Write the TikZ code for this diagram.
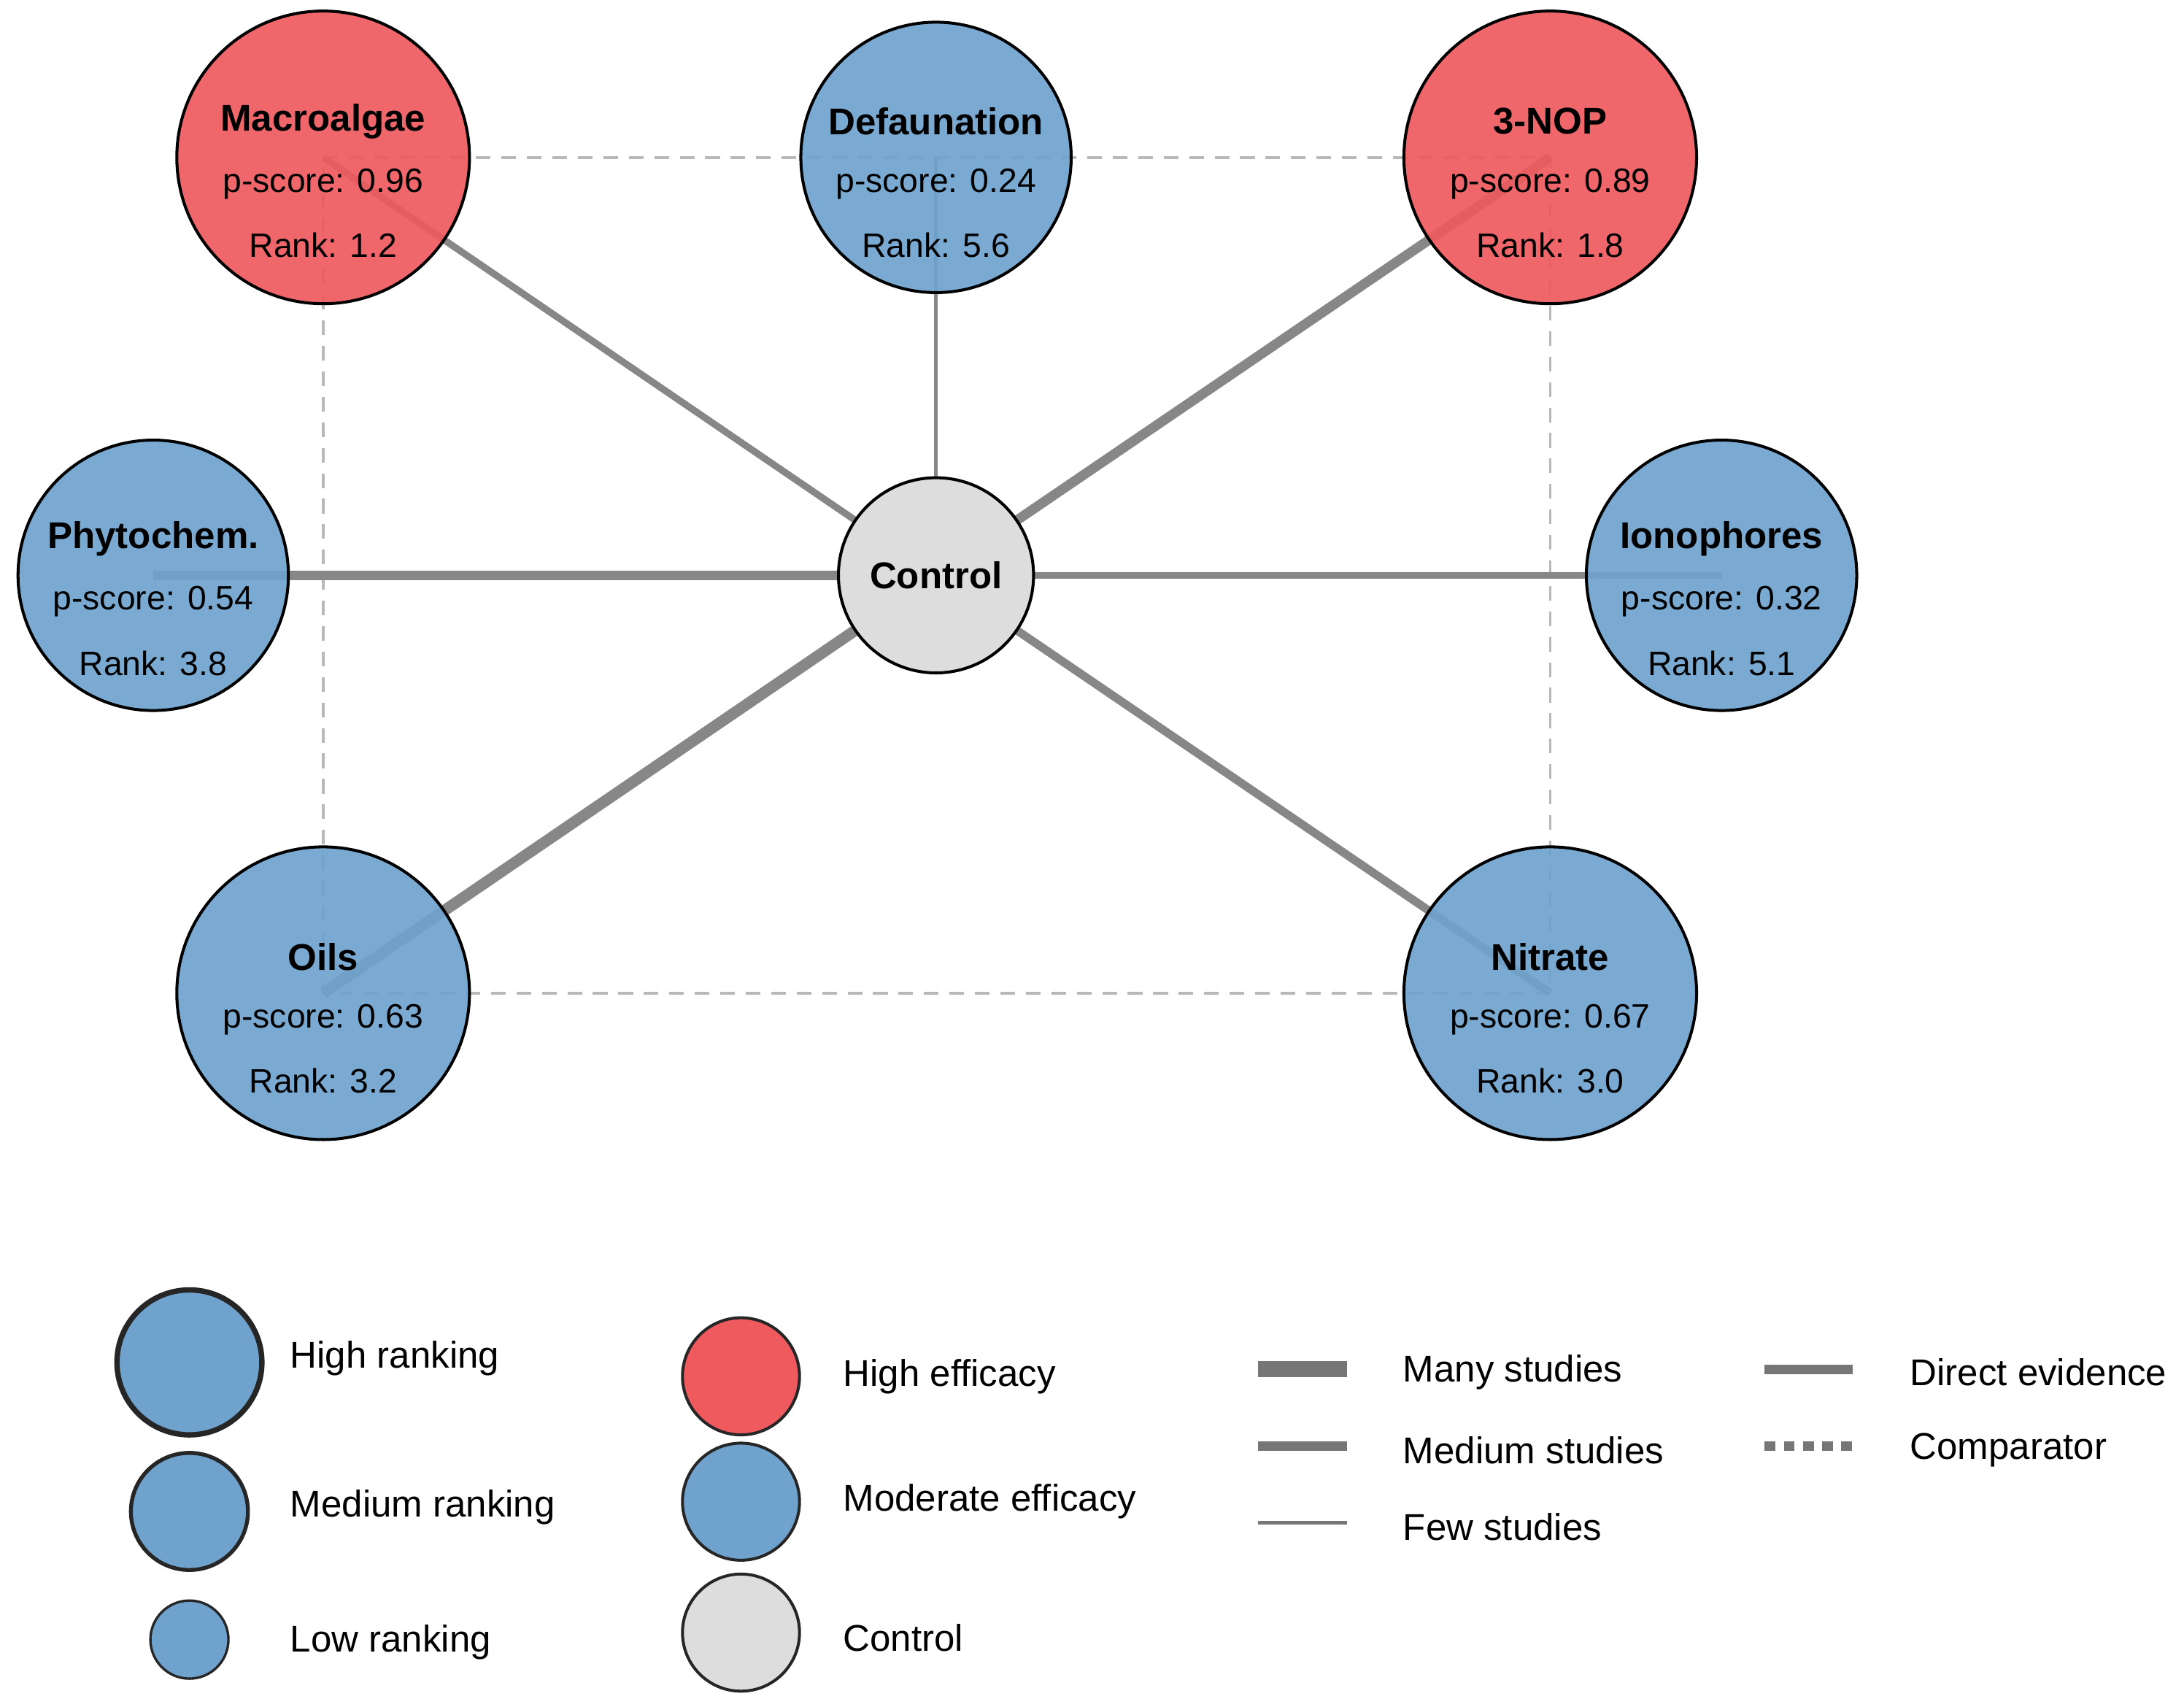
\documentclass[tikz,border=0pt]{standalone}
\usepackage{fontspec}
\setmainfont{Liberation Sans}
\definecolor{hired}{HTML}{EF5A5E}
\definecolor{modblue}{HTML}{6FA3CE}
\definecolor{ctrl}{HTML}{DDDDDD}
\definecolor{edge}{HTML}{878787}
\definecolor{leg}{HTML}{767676}
\begin{document}
\begin{tikzpicture}[x=0.01cm,y=-0.01cm,
  trt/.style={circle,draw=black,line width=0.6pt,inner sep=0pt,fill opacity=0.92,text opacity=1},
  red/.style={trt,fill=hired},
  blue/.style={trt,fill=modblue},
  ttl/.style={font=\bfseries\fontsize{7.6}{9}\selectfont},
  lbl/.style={font=\fontsize{6.9}{8}\selectfont},
  legt/.style={font=\fontsize{7.6}{9}\selectfont,anchor=west},
  ed/.style={draw=edge},
  cmp/.style={draw=black!28,line width=0.55pt,dash pattern=on 3pt off 2.2pt}]
\useasboundingbox (0,0) rectangle (1568,1225);
% comparator rectangle
\coordinate (c1) at (232,113); \coordinate (c2) at (1113,113);
\coordinate (c3) at (1113,713); \coordinate (c4) at (232,713);
\draw[cmp] (c1) -- (c2) -- (c3) -- (c4) -- cycle;
% edges (centers)
\coordinate (pMa) at (232,113); \coordinate (pDe) at (672,113); \coordinate (pNO) at (1113,113);
\coordinate (pPh) at (110,413); \coordinate (pCo) at (672,413); \coordinate (pIo) at (1236,413);
\coordinate (pOi) at (232,713); \coordinate (pNi) at (1113,713);
\draw[ed,line width=1.4pt] (pCo) -- (pMa);
\draw[ed,line width=0.7pt] (pCo) -- (pDe);
\draw[ed,line width=2.0pt] (pCo) -- (pNO);
\draw[ed,line width=2.0pt] (pCo) -- (pPh);
\draw[ed,line width=1.4pt] (pCo) -- (pIo);
\draw[ed,line width=2.3pt] (pCo) -- (pOi);
\draw[ed,line width=1.7pt] (pCo) -- (pNi);
% nodes
\node[red,minimum size=2.1cm] (Ma) at (pMa) {};
\node[blue,minimum size=1.94cm] (De) at (pDe) {};
\node[red,minimum size=2.1cm] (NO) at (pNO) {};
\node[blue,minimum size=1.94cm] (Ph) at (pPh) {};
\node[blue,minimum size=1.94cm] (Io) at (pIo) {};
\node[blue,minimum size=2.1cm] (Oi) at (pOi) {};
\node[blue,minimum size=2.1cm] (Ni) at (pNi) {};
\node[circle,draw=black,line width=0.6pt,fill=ctrl,minimum size=1.4cm,inner sep=0pt,ttl] (Co) at (pCo) {Control};
% labels
\foreach \n/\x/\y/\t/\p/\r in {Ma/232/113/Macroalgae/0.96/1.2, De/672/113/Defaunation/0.24/5.6, NO/1113/113/3-NOP/0.89/1.8, Ph/110/413/Phytochem./0.54/3.8, Io/1236/413/Ionophores/0.32/5.1, Oi/232/713/Oils/0.63/3.2, Ni/1113/713/Nitrate/0.67/3.0}{
  \node[ttl] (t\n) at (\x,\y-26) {\t};
  \node[lbl] (s\n) at (\x,\y+19) {p-score: \p};
  \node[lbl] (r\n) at (\x,\y+63) {Rank: \r};
}
% legend circles
\node[circle,draw=black!85,line width=1.1pt,fill=modblue,minimum size=1.04cm,inner sep=0pt] (L1) at (136,978) {};
\node[circle,draw=black!85,line width=0.8pt,fill=modblue,minimum size=0.84cm,inner sep=0pt] (L2) at (136,1085) {};
\node[circle,draw=black!85,line width=0.5pt,fill=modblue,minimum size=0.56cm,inner sep=0pt] (L3) at (136,1177) {};
\node[legt] (l1) at (196,975) {High ranking};
\node[legt] (l2) at (196,1082) {Medium ranking};
\node[legt] (l3) at (196,1179) {Low ranking};
\node[circle,draw=black!85,line width=0.6pt,fill=hired,minimum size=0.84cm,inner sep=0pt] (E1) at (532,988) {};
\node[circle,draw=black!85,line width=0.6pt,fill=modblue,minimum size=0.84cm,inner sep=0pt] (E2) at (532,1078) {};
\node[circle,draw=black!85,line width=0.6pt,fill=ctrl,minimum size=0.84cm,inner sep=0pt] (E3) at (532,1172) {};
\node[legt] (e1) at (593,988) {High efficacy};
\node[legt] (e2) at (593,1078) {Moderate efficacy};
\node[legt] (e3) at (593,1176) {Control};
% legend lines
\coordinate (a1) at (903,983); \coordinate (b1) at (967,983);
\coordinate (a2) at (903,1038); \coordinate (b2) at (967,1038);
\coordinate (a3) at (903,1093); \coordinate (b3) at (967,1093);
\coordinate (a4) at (1267,983); \coordinate (b4) at (1330,983);
\coordinate (a5) at (1267,1038); \coordinate (b5) at (1330,1038);
\draw[leg,line width=3.3pt] (a1) -- (b1);
\draw[leg,line width=2pt] (a2) -- (b2);
\draw[leg,line width=0.7pt] (a3) -- (b3);
\draw[leg,line width=2pt] (a4) -- (b4);
\draw[leg,line width=2pt,dash pattern=on 2.2pt off 1.7pt] (a5) -- (b5);
\node[legt] (m1) at (995,985) {Many studies};
\node[legt] (m2) at (995,1041) {Medium studies};
\node[legt] (m3) at (995,1096) {Few studies};
\node[legt] (m4) at (1359,985) {Direct evidence};
\node[legt] (m5) at (1359,1041) {Comparator};
\end{tikzpicture}
\end{document}
